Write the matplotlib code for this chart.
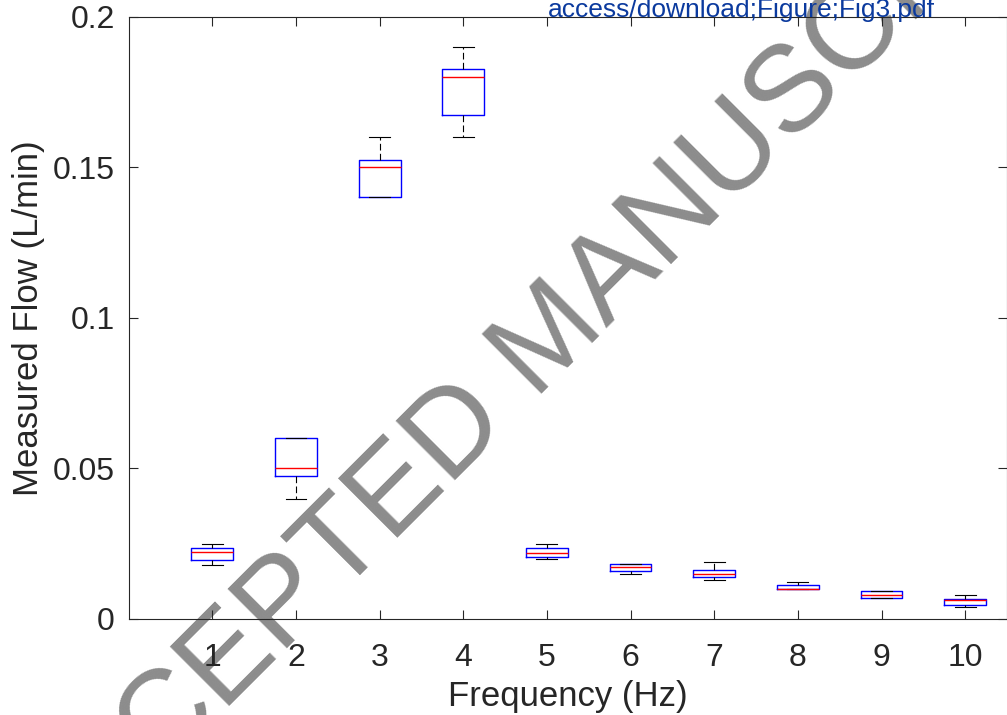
import matplotlib
matplotlib.use("Agg")
import matplotlib.pyplot as plt

# ---- data ----
freqs = [1, 2, 3, 4, 5, 6, 7, 8, 9, 10]
x_tick_labels = ["1", "2", "3", "4", "5", "6", "7", "8", "9", "10"]
whisker_low = [0.018, 0.040, 0.140, 0.160, 0.020, 0.015, 0.013, 0.0100, 0.0070, 0.0041]
q1 = [0.0196, 0.0475, 0.140, 0.1675, 0.0207, 0.0158, 0.0138, 0.0100, 0.0070, 0.0048]
median = [0.0222, 0.0501, 0.150, 0.180, 0.0220, 0.0171, 0.0150, 0.0101, 0.0081, 0.0063]
q3 = [0.0236, 0.0600, 0.1525, 0.1825, 0.0235, 0.0182, 0.0162, 0.0114, 0.0092, 0.0066]
whisker_high = [0.0250, 0.0600, 0.160, 0.190, 0.0250, 0.0182, 0.0190, 0.0122, 0.0092, 0.0080]
y_ticks = [0, 0.05, 0.1, 0.15, 0.2]
y_tick_labels = ["0", "0.05", "0.1", "0.15", "0.2"]

plt.rcParams['font.family'] = ['Liberation Sans', 'DejaVu Sans']

fig = plt.figure(figsize=(10.07, 7.15), dpi=100)
ax = fig.add_axes([0.1278, 0.1343, 0.8722, 0.8423])
ax.set_facecolor('none')

stats = []
for lo, a, m, b, hi in zip(whisker_low, q1, median, q3, whisker_high):
    stats.append(dict(whislo=lo, q1=a, med=m, q3=b, whishi=hi, fliers=[]))

ax.bxp(stats, positions=freqs, widths=0.5, capwidths=0.25, showfliers=False,
       boxprops=dict(color='#0000ff', linewidth=1.0),
       medianprops=dict(color='#ff0000', linewidth=1.0),
       whiskerprops=dict(color='black', linewidth=0.8, linestyle=(0, (6, 3))),
       capprops=dict(color='black', linewidth=0.8),
       manage_ticks=False)

ax.set_xlim(0, 10.5)
ax.set_ylim(0, 0.2)
ax.set_xticks(freqs)
ax.set_xticklabels(x_tick_labels)
ax.set_yticks(y_ticks)
ax.set_yticklabels(y_tick_labels)

spine_col = '#262626'
for s in ax.spines.values():
    s.set_color(spine_col)
    s.set_linewidth(0.8)
ax.tick_params(axis='both', direction='in', length=6.5, width=0.8, colors=spine_col,
               labelsize=23, top=True, right=True)
ax.tick_params(axis='x', pad=17)
ax.tick_params(axis='y', pad=10)

ax.set_xlabel("Frequency (Hz)", fontsize=25, color=spine_col, va='center')
ax.xaxis.set_label_coords(0.5, -0.128)
ax.set_ylabel("Measured Flow (L/min)", fontsize=25, color=spine_col, va='center')
ax.yaxis.set_label_coords(-0.1146, 0.5)

# overlays present on the reference page
fig.text(0.736, 0.976, "access/download;Figure;Fig3.pdf", fontsize=19,
         color='#0b3a9e', ha='center', va='baseline', zorder=5)
fig.text(0.5467, 0.5252, "ACCEPTED MANUSCRIPT", fontsize=88, color='#8c8c8c',
         rotation=45, ha='center', va='center', zorder=-1)

fig.savefig("out.png", dpi=100)
